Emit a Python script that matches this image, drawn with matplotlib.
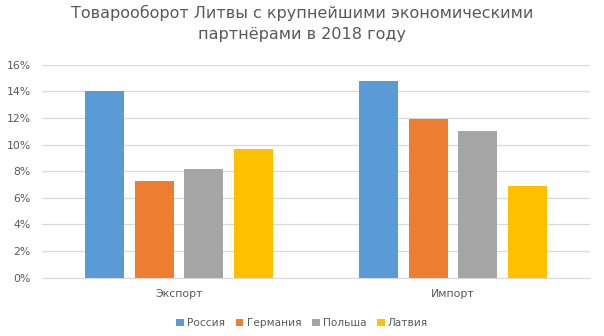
import numpy as np
import matplotlib.pyplot as plt
from matplotlib.ticker import FuncFormatter

categories = ["Экспорт", "Импорт"]
countries = ["Россия", "Германия", "Польша", "Латвия"]
russia = [14.0, 14.8]
germany = [7.3, 11.9]
poland = [8.2, 11.0]
latvia = [9.7, 6.9]

colors = ["#5b9bd5", "#ed7d31", "#a5a5a5", "#ffc000"]
series = [russia, germany, poland, latvia]

plt.rcParams['font.family'] = ['DejaVu Sans']
fig = plt.figure(figsize=(6.04, 3.36), dpi=100)
ax = fig.add_axes([0.0695, 0.1735, 0.9075, 0.634])

x = np.arange(len(categories))
width = 0.142
pitch = 0.181
for i, (name, vals) in enumerate(zip(countries, series)):
    ax.bar(x + (i - 1.5) * pitch, vals, width, color=colors[i], label=name, zorder=3)

ax.set_xlim(-0.5, 1.5)
ax.set_ylim(0, 16)
ax.set_yticks(np.arange(0, 17, 2))
ax.yaxis.set_major_formatter(FuncFormatter(lambda v, p: "%d%%" % v))
ax.set_xticks(x)
ax.set_xticklabels(categories)
ax.grid(axis='y', color='#d9d9d9', linewidth=0.9, zorder=0)
for s in ['top', 'right', 'left']:
    ax.spines[s].set_visible(False)
ax.spines['bottom'].set_color('#d9d9d9')
ax.tick_params(axis='both', length=0, labelsize=7.8, colors='#595959')
ax.tick_params(axis='x', pad=8)
ax.tick_params(axis='y', pad=8)

fig.suptitle("Товарооборот Литвы с крупнейшими экономическими\nпартнёрами в 2018 году",
             fontsize=11.5, color='#595959', y=0.985, linespacing=1.45)

fig.legend(loc='lower center', ncol=4, frameon=False, fontsize=7.6,
           labelcolor='#595959', handlelength=0.75, handleheight=0.75,
           handletextpad=0.3, columnspacing=1.0, bbox_to_anchor=(0.5, -0.005))

fig.savefig("out.png", dpi=100)
